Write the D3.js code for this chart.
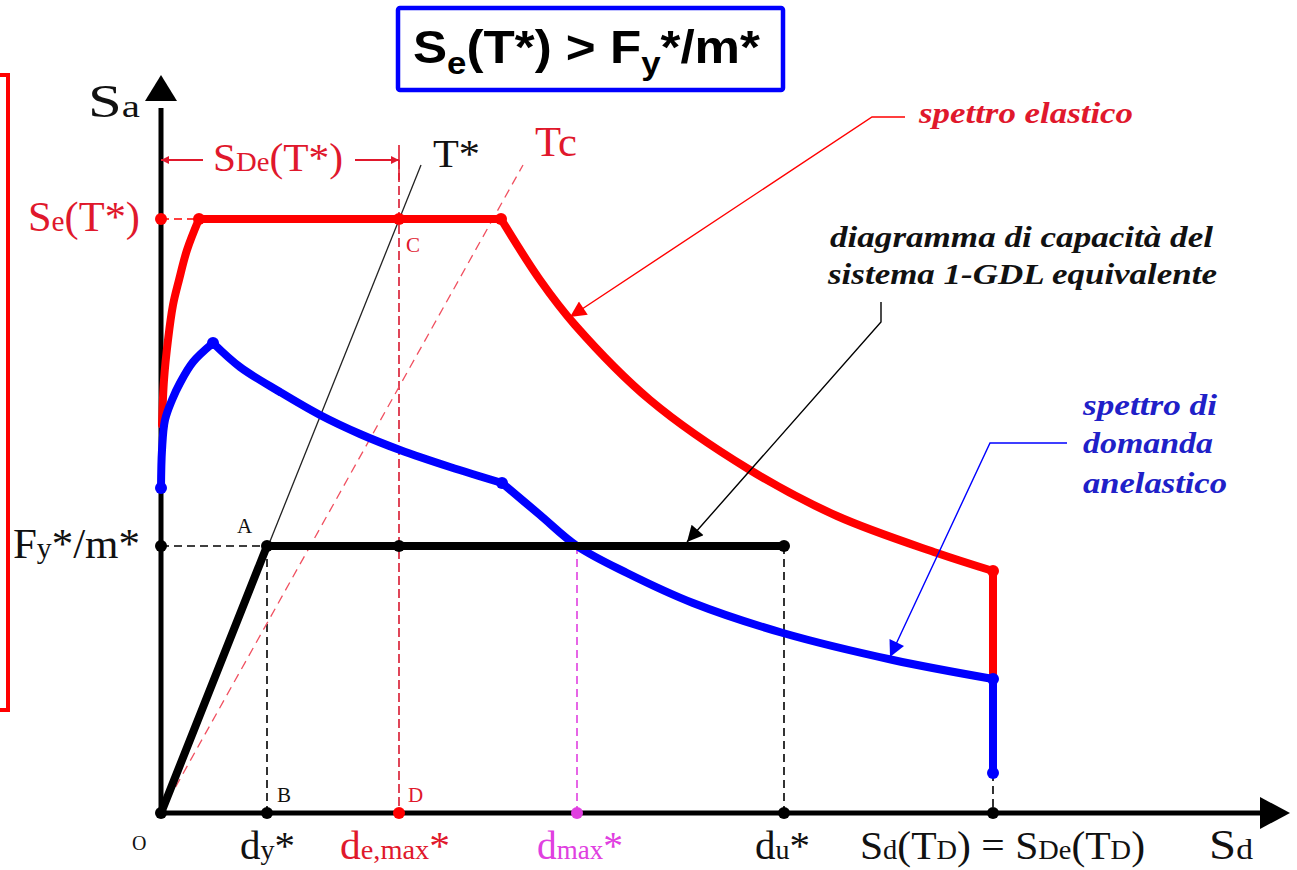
<!DOCTYPE html>
<html>
<head>
<meta charset="utf-8">
<script src="https://cdn.jsdelivr.net/npm/d3@7"></script>
<style>
  body { margin: 0; background: #fff; }
  svg { display: block; }
  .serif { font-family: "Liberation Serif", "DejaVu Serif", serif; }
  .note { font-family: "Liberation Serif", serif; font-weight: bold; font-style: italic; font-size: 29px; }
</style>
</head>
<body>
<svg id="chart" width="1297" height="870"></svg>
<script>
// ===========================//
// DATA (Sd, Sa in drawing units)
// ===========================//

// key abscissae / ordinates
var dy = 10.6, deMax = 23.8, dMax = 41.6, du = 62.3, sdTD = 83.2
var fy = 26.7, seT = 59.4

// spettro elastico (red)
var redRise    = [[0.1,38.8],[0.3,43.3],[0.7,47.3],[1.2,50.8],[1.8,53.3],[2.6,56.3],[3.8,59.4]]
var redPlateau = [[3.8,59.4],[34.0,59.4]]
var redFall    = [[34.0,59.4],[37.9,53.3],[41.4,48.8],[48.9,41.3],[58.9,34.3],[67.6,29.7],[77.6,26.0],[83.2,24.2]]
var redDrop    = [[83.2,24.2],[83.2,13.3]]

// spettro di domanda anelastico (blue)
var blueRise  = [[0,32.5],[0.1,36.3],[0.4,39.3],[1.1,41.3],[1.9,43.0],[3.2,45.1],[5.2,47.0]]
var blueFall1 = [[5.2,47.0],[7.9,44.6],[11.9,42.1],[15.9,39.8],[19.9,37.9],[23.9,36.3],[28.9,34.6],[34.1,33.0]]
var blueFall2 = [[34.1,33.0],[37.9,29.8],[41.6,26.7],[46.6,24.0],[53.2,21.0],[62.2,18.0],[73.2,15.3],[83.2,13.4]]
var blueDrop  = [[83.2,13.4],[83.2,4.0]]

// capacity curve (bilinear)
var capacity = [[0,0],[dy,fy],[du,fy]]

// period lines
var lineTstar = [[0,0],[26.0,64.8]]
var lineTc    = [[0,0],[36.2,64.8]]

// points
var blackDots   = [[0,fy],[dy,fy],[dy,0],[deMax,fy],[du,fy],[du,0],[sdTD,0],[0,0]]
var redDots     = [[0,seT],[deMax,0],[3.8,seT],[34.0,seT],[deMax,seT],[83.2,24.2]]
var magentaDots = [[dMax,0]]
var blueDots    = [[0,32.5],[5.2,47.0],[34.1,33.0],[83.2,13.4],[83.2,4.0]]

// ===========================//
// SCALES
// ===========================//
var svg = d3.select("#chart")
var x = d3.scaleLinear().domain([0, 112.6]).range([161, 1287])
var y = d3.scaleLinear().domain([0, 73.8]).range([813, 75])

var lin = d3.line().x(function(d){ return x(d[0]) }).y(function(d){ return y(d[1]) })
var smooth = d3.line().x(function(d){ return x(d[0]) }).y(function(d){ return y(d[1]) }).curve(d3.curveCatmullRom.alpha(0.5))

var RED = "#ff0000", BLUE = "#0000ff", RTXT = "#e0182c", BTXT = "#2020c8", MAG = "#e040e0"

// arrow markers
var defs = svg.append("defs")
function marker(id, color, w, h) {
  defs.append("marker").attr("id", id)
    .attr("viewBox", "0 0 10 10").attr("refX", 10).attr("refY", 5)
    .attr("markerUnits", "userSpaceOnUse")
    .attr("markerWidth", w).attr("markerHeight", h)
    .attr("orient", "auto")
    .append("path").attr("d", "M0,0 L10,5 L0,10 Z").attr("fill", color)
}
marker("arRed", RED, 22, 16)
marker("arBlack", "#000", 22, 16)
marker("arBlue", BLUE, 22, 16)
marker("arDim", RTXT, 14, 8)

// ===========================//
// FRAMES
// ===========================//
svg.append("rect").attr("x", -10).attr("y", 75).attr("width", 18).attr("height", 635)
  .attr("fill", "none").attr("stroke", RED).attr("stroke-width", 4)

svg.append("rect").attr("x", 398).attr("y", 8).attr("width", 385).attr("height", 82)
  .attr("fill", "#fff").attr("stroke", BLUE).attr("stroke-width", 4.5).attr("rx", 2)

var title = svg.append("text").attr("x", 413).attr("y", 63)
  .attr("textLength", 347).attr("lengthAdjust", "spacingAndGlyphs")
  .style("font-family", "'Liberation Sans', Arial, sans-serif").style("font-weight", "bold").style("font-size", "47px")
title.append("tspan").text("S")
title.append("tspan").attr("dy", 11).style("font-size", "32px").text("e")
title.append("tspan").attr("dy", -11).text("(T*) > F")
title.append("tspan").attr("dy", 11).style("font-size", "32px").text("y")
title.append("tspan").attr("dy", -11).text("*/m*")

// ===========================//
// GUIDE LINES
// ===========================//
function guide(pts, color, w, dash) {
  svg.append("path").attr("d", lin(pts)).attr("fill", "none")
    .attr("stroke", color).attr("stroke-width", w).attr("stroke-dasharray", dash)
}
guide([[0,fy],[dy,fy]], "#000", 1.6, "8,5")
guide([[dy,fy],[dy,0]], "#000", 1.6, "8,5")
guide([[du,fy],[du,0]], "#000", 1.6, "8,5")
guide([[sdTD,4.0],[sdTD,0]], "#000", 1.6, "8,5")
guide([[0,seT],[3.8,seT]], RED, 1.6, "8,5")
guide([[deMax,65.3],[deMax,0]], "#d81830", 1.6, "9,4")
guide([[dMax,fy],[dMax,0]], MAG, 1.6, "8,5")
guide(lineTc, "#f05060", 1.3, "9,6")
guide(lineTstar, "#222", 1.3, null)

// ===========================//
// AXES
// ===========================//
svg.append("line").attr("x1", x(0)).attr("y1", y(0)).attr("x2", x(0)).attr("y2", y(70.5))
  .attr("stroke", "#000").attr("stroke-width", 5)
svg.append("line").attr("x1", x(0)).attr("y1", y(0)).attr("x2", x(110.0)).attr("y2", y(0))
  .attr("stroke", "#000").attr("stroke-width", 5)
svg.append("path").attr("d", "M" + x(0) + "," + y(73.8) + " L" + (x(0)-16) + "," + y(71.2) + " L" + (x(0)+16) + "," + y(71.2) + " Z")
svg.append("path").attr("d", "M" + x(112.9) + "," + y(0) + " L" + x(109.9) + "," + (y(0)-16) + " L" + x(109.9) + "," + (y(0)+16) + " Z")

// ===========================//
// CURVES
// ===========================//
function curve(pts, gen, color, w) {
  svg.append("path").attr("d", gen(pts)).attr("fill", "none")
    .attr("stroke", color).attr("stroke-width", w)
    .attr("stroke-linejoin", "round").attr("stroke-linecap", "round")
}
curve(redRise, smooth, RED, 8)
curve(redPlateau, lin, RED, 8)
curve(redFall, smooth, RED, 8)
curve(redDrop, lin, RED, 8)
curve(blueRise, smooth, BLUE, 8)
curve(blueFall1, smooth, BLUE, 8)
curve(blueFall2, smooth, BLUE, 8)
curve(blueDrop, lin, BLUE, 8)
curve(capacity, lin, "#000", 8)

function dots(pts, color, r) {
  svg.selectAll(null).data(pts).enter().append("circle")
    .attr("cx", function(d){ return x(d[0]) }).attr("cy", function(d){ return y(d[1]) })
    .attr("r", r).attr("fill", color)
}
dots(blackDots, "#000", 6)
dots(redDots, RED, 6)
dots(magentaDots, MAG, 6)
dots(blueDots, BLUE, 6)

// SDe(T*) dimension
svg.append("line").attr("x1", x(4.2)).attr("y1", y(65.3)).attr("x2", x(0)).attr("y2", y(65.3))
  .attr("stroke", RTXT).attr("stroke-width", 2).attr("marker-end", "url(#arDim)")
svg.append("line").attr("x1", x(19.4)).attr("y1", y(65.3)).attr("x2", x(deMax)).attr("y2", y(65.3))
  .attr("stroke", RTXT).attr("stroke-width", 2).attr("marker-end", "url(#arDim)")
svg.append("line").attr("x1", x(deMax)).attr("y1", y(66.8)).attr("x2", x(deMax)).attr("y2", y(63.3))
  .attr("stroke", RTXT).attr("stroke-width", 1.6)

// ===========================//
// LEADERS
// ===========================//
function leader(pts, color, mk) {
  svg.append("path").attr("d", lin(pts)).attr("fill", "none")
    .attr("stroke", color).attr("stroke-width", 1.4).attr("marker-end", "url(#" + mk + ")")
}
leader([[74.4,69.6],[71.1,69.6],[40.9,49.6]], RED, "arRed")
leader([[72.0,51.1],[72.0,49.1],[52.6,27.1]], "#000", "arBlack")
leader([[90.6,37.0],[82.9,37.0],[72.9,15.6]], BLUE, "arBlue")

// ===========================//
// LABELS
// ===========================//
function label(px, py, parts, color, size, len) {
  var t = svg.append("text").attr("class", "serif").attr("x", px).attr("y", py)
    .attr("fill", color).style("font-size", size + "px")
  if (len) t.attr("textLength", len).attr("lengthAdjust", "spacingAndGlyphs")
  parts.forEach(function(p){
    var s = t.append("tspan").text(p[0])
    if (p[1]) s.style("font-size", Math.round(size * p[1]) + "px")
  })
  return t
}
var SM = 0.68
label(88, 117, [["S"],["a", SM]], "#111", 46, 52)
label(1209, 859, [["S"],["d", SM]], "#111", 42, 44)
label(28, 231, [["S"],["e", SM],["(T*)"]], RTXT, 42, 112)
label(213, 171, [["S"],["De", SM],["(T*)"]], RTXT, 39, 130)
label(13, 558, [["F"],["y", SM],["*/m*"]], "#111", 42, 127)
label(433, 167, [["T*"]], "#111", 40, 47)
label(535, 156, [["Tc"]], RTXT, 42, 42)
label(237, 533, [["A"]], "#111", 21)
label(277, 802, [["B"]], "#111", 21)
label(406, 252, [["C"]], RTXT, 21)
label(408, 802, [["D"]], RTXT, 21)
label(132, 850, [["O"]], "#111", 20)
label(240, 859, [["d"],["y", SM],["*"]], "#111", 41, 55)
label(340, 859, [["d"],["e,max", SM],["*"]], RTXT, 41, 110)
label(537, 859, [["d"],["max", SM],["*"]], MAG, 41, 86)
label(755, 859, [["d"],["u", SM],["*"]], "#111", 41, 55)
label(860, 859, [["S"],["d", SM],["(T"],["D", SM],[") = S"],["De", SM],["(T"],["D", SM],[")"]], "#111", 41, 285)

// annotations
function note(px, py, txt, color, len) {
  svg.append("text").attr("class", "note").attr("x", px).attr("y", py).attr("fill", color)
    .attr("textLength", len).attr("lengthAdjust", "spacingAndGlyphs").text(txt)
}
note(919, 123, "spettro elastico", RTXT, 214)
note(830, 247, "diagramma di capacità del", "#111", 383)
note(828, 284, "sistema 1-GDL equivalente", "#111", 389)
note(1083, 415, "spettro di", BTXT, 134)
note(1083, 453, "domanda", BTXT, 130)
note(1083, 493, "anelastico", BTXT, 144)
</script>
</body>
</html>
